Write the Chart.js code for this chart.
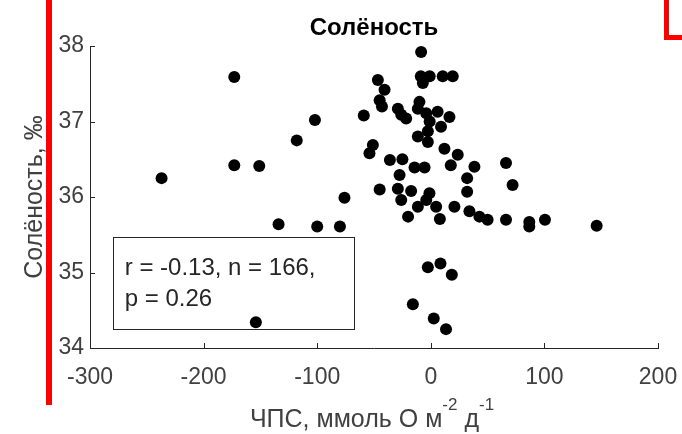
<!DOCTYPE html>
<html>
<head>
<meta charset="utf-8">
<script src="https://cdn.jsdelivr.net/npm/chart.js@4/dist/chart.umd.min.js"></script>
<style>
  html, body { margin: 0; padding: 0; background: #fff; }
  canvas { display: block; }
</style>
</head>
<body>
<canvas id="chart" width="682" height="434"></canvas>
<script>
// NCP (mmol O m-2 d-1) vs salinity
var ncp = [
  -237, -173, -173, -151, -118, -102, -134, -100, -80, -76, -154, -59,
  -8.5, -8.8, -7, -1, 10.5, 19.3,
  -46.6, -40.7, -45, -43, -29, -26, -21.7,
  -10, -11.4, -4, 6, 16.4, -1, 9,
  -2.6, -11.4, -2.6, 12, 23.7,
  -51, -54, -36, -25, -14.3, -5.5, -27.5,
  17.6, 38.4, 66.2, 72, 32, 32,
  -45, -29, -17.3, -26, -1.2, -4, -11.4, 4.7, -20, 8,
  20.8, 34, 42.8, 50, 66.2, 86.7, 86.7, 100.5, 146,
  -2.6, 8.5, 18.5, -15.8, 2.6, 13.4
];
var salinity = [
  36.25, 37.59, 36.42, 36.41, 36.75, 37.02, 35.64, 35.61, 35.61, 35.99, 34.34, 37.08,
  37.92, 37.6, 37.51, 37.6, 37.6, 37.6,
  37.55, 37.42, 37.28, 37.2, 37.17, 37.09, 37.04,
  37.26, 37.17, 37.11, 37.13, 37.06, 37.0, 36.93,
  36.87, 36.8, 36.73, 36.64, 36.56,
  36.69, 36.58, 36.49, 36.5, 36.39, 36.39, 36.29,
  36.42, 36.4, 36.45, 36.16, 36.25, 36.07,
  36.1, 36.11, 36.08, 35.96, 36.05, 35.96, 35.87, 35.87, 35.74, 35.71,
  35.87, 35.81, 35.74, 35.7, 35.7, 35.67, 35.61, 35.7, 35.62,
  35.07, 35.12, 34.97, 34.58, 34.39, 34.25
];

var titleText = 'Солёность';
var yTitle = 'Солёность, ‰';
var xTitleParts = [['ЧПС, ммоль О м', false], ['-2', true], [' д', false], ['-1', true]];
var statLines = ['r = -0.13, n = 166,', 'p = 0.26'];
// stats box corners in data units
var boxX = [-280, -68];
var boxY = [35.47, 34.25];

var points = ncp.map(function (v, i) { return { x: v, y: salinity[i] }; });

var fontFamily = '"Liberation Sans", Arial, sans-serif';

var extras = {
  id: 'extras',
  beforeDatasetsDraw: function (chart) {
    var ctx = chart.ctx;
    var xs = chart.scales.x, ys = chart.scales.y;
    ctx.save();
    // stats box
    var l = xs.getPixelForValue(boxX[0]), r = xs.getPixelForValue(boxX[1]);
    var t = ys.getPixelForValue(boxY[0]), b = ys.getPixelForValue(boxY[1]);
    ctx.strokeStyle = '#262626';
    ctx.lineWidth = 1;
    ctx.strokeRect(Math.round(l) + 0.5, Math.round(t) + 0.5, Math.round(r - l), Math.round(b - t));
    ctx.fillStyle = '#262626';
    ctx.font = '24px ' + fontFamily;
    ctx.textBaseline = 'middle';
    ctx.textAlign = 'left';
    ctx.fillText(statLines[0], l + 12, t + 31);
    ctx.fillText(statLines[1], l + 12, t + 62);
    // inward ticks
    ctx.beginPath();
    xs.ticks.forEach(function (tk) {
      var px = Math.round(xs.getPixelForValue(tk.value)) + 0.5;
      ctx.moveTo(px, ys.bottom);
      ctx.lineTo(px, ys.bottom - 5);
    });
    ys.ticks.forEach(function (tk) {
      var py = Math.round(ys.getPixelForValue(tk.value)) + 0.5;
      ctx.moveTo(xs.left, py);
      ctx.lineTo(xs.left + 5, py);
    });
    ctx.stroke();
    ctx.restore();
  },
  afterDraw: function (chart) {
    var ctx = chart.ctx;
    var xs = chart.scales.x;
    var mid = (xs.left + xs.right) / 2;
    ctx.save();
    // chart title
    ctx.fillStyle = '#000';
    ctx.font = 'bold 24px ' + fontFamily;
    ctx.textAlign = 'center';
    ctx.textBaseline = 'middle';
    ctx.fillText(titleText, mid, 28);
    // x axis title with superscripts
    var mainFont = '25px ' + fontFamily, supFont = '17px ' + fontFamily;
    var w = 0;
    xTitleParts.forEach(function (p) {
      ctx.font = p[1] ? supFont : mainFont;
      w += ctx.measureText(p[0]).width;
    });
    var x = mid - w / 2 - 2;
    var base = 427;
    ctx.fillStyle = '#404040';
    ctx.textBaseline = 'alphabetic';
    ctx.textAlign = 'left';
    xTitleParts.forEach(function (p) {
      ctx.font = p[1] ? supFont : mainFont;
      ctx.fillText(p[0], x, p[1] ? base - 17 : base);
      x += ctx.measureText(p[0]).width;
    });
    // red marks present in the reference picture
    ctx.fillStyle = '#ff0000';
    ctx.fillRect(46, 0, 6, 405);
    ctx.fillRect(664, 0, 5, 40);
    ctx.fillRect(664, 35, 18, 5);
    ctx.restore();
  }
};

new Chart(document.getElementById('chart'), {
  type: 'scatter',
  data: {
    datasets: [{
      data: points,
      pointRadius: 6,
      pointHoverRadius: 6,
      backgroundColor: '#000',
      borderWidth: 0
    }]
  },
  options: {
    responsive: false,
    animation: false,
    layout: { padding: { left: 0, right: 24, top: 46, bottom: 0 } },
    plugins: {
      legend: { display: false },
      tooltip: { enabled: false },
      title: { display: false }
    },
    scales: {
      x: {
        type: 'linear',
        min: -300,
        max: 200,
        ticks: { stepSize: 100, color: '#404040', padding: 16, maxRotation: 0,
          font: { family: fontFamily, size: 23 } },
        grid: { display: false, drawTicks: false },
        border: { display: true, color: '#262626', width: 1 },
        afterFit: function (s) { s.height = 86; s.paddingLeft = 0; s.paddingRight = 0; }
      },
      y: {
        type: 'linear',
        min: 34,
        max: 38,
        ticks: { stepSize: 1, color: '#404040', padding: 6,
          font: { family: fontFamily, size: 23 } },
        grid: { display: false, drawTicks: false },
        border: { display: true, color: '#262626', width: 1 },
        title: {
          display: true,
          text: yTitle,
          color: '#404040',
          font: { family: fontFamily, size: 25 },
          padding: { top: 20, bottom: 0 }
        },
        afterFit: function (s) { s.width = 90; s.paddingTop = 0; s.paddingBottom = 0; }
      }
    }
  },
  plugins: [extras]
});
</script>
</body>
</html>
